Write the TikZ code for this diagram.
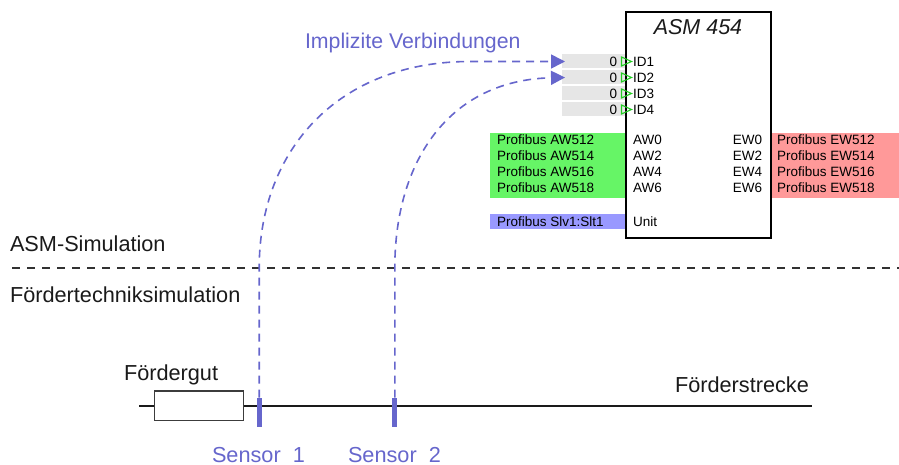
\documentclass[tikz,border=0pt]{standalone}
\usepackage{fontspec}
\setmainfont{Liberation Sans}
\usetikzlibrary{arrows.meta}
\definecolor{vio}{HTML}{6666CC}
\definecolor{gfill}{HTML}{66F566}
\definecolor{rfill}{HTML}{FF9999}
\definecolor{bfill}{HTML}{9999FF}
\definecolor{barg}{HTML}{E6E6E6}
\definecolor{trig}{HTML}{22CC22}
\definecolor{ink}{HTML}{1A1A1A}
\tikzset{
  big/.style={inner sep=0pt, outer sep=0pt, text=ink, font=\fontsize{21.7}{25}\selectfont},
  bigv/.style={big, text=vio},
  small/.style={inner sep=0pt, outer sep=0pt, text=black, font=\fontsize{13.5}{16}\selectfont},
  colbox/.style={draw=none, inner sep=0pt, outer sep=0pt, anchor=north west},
  idbar/.style={colbox, fill=barg, minimum width=64.5pt, minimum height=14pt},
  sensorbar/.style={fill=vio, draw=none, inner sep=0pt, outer sep=0pt, minimum width=5pt, minimum height=29pt, anchor=north},
  conn/.style={draw=vio, line width=1.6pt, dash pattern=on 8pt off 6pt, -{Triangle[length=14pt,width=14pt]}},
  sepline/.style={draw=ink!90, line width=1.3pt, dash pattern=on 8pt off 7pt},
  idtri/.style={draw=trig, line width=1.1pt, line join=miter}
}
\begin{document}
\begin{tikzpicture}[x=1pt,y=-1pt]
\useasboundingbox (0,0) rectangle (899,465);

% ---- ASM block ----
\node[colbox, fill=gfill, minimum width=136pt, minimum height=64.5pt] (gbox) at (489.5,133.5) {};
\node[colbox, fill=rfill, minimum width=127.5pt, minimum height=64.5pt] (rbox) at (771.5,133.5) {};
\node[colbox, fill=bfill, minimum width=136pt, minimum height=15pt] (bbox) at (489.5,214) {};
\node[idbar] (id1bar) at (561.5,54.5) {};
\node[idbar] (id2bar) at (561.5,70.5) {};
\node[idbar] (id3bar) at (561.5,86.5) {};
\node[idbar] (id4bar) at (561.5,102.5) {};
\node[draw=black, line width=1.3pt, fill=none, inner sep=0pt, outer sep=0pt, anchor=north west,
      minimum width=145pt, minimum height=226pt] (asm) at (626,12) {};
\node[big, anchor=base, font=\fontsize{21.5}{25}\selectfont\itshape] (asmtitle) at (698,35) {ASM 454};

\foreach \i/\c in {1/61.5,2/77.5,3/93.5,4/109.5}{
  \node[small, anchor=base east] (zero\i) at (617,\c+5) {0};
  \draw[idtri] (621.5,\c-4.5) -- (631.5,\c) -- (621.5,\c+4.5) -- cycle;
  \node[small, anchor=base west] (idl\i) at (633,\c+5) {ID\i};
}

\foreach \k/\a/\p/\y in {1/0/512/145,2/2/514/161,3/4/516/177,4/6/518/193}{
  \node[small, anchor=base west] (pa\k) at (497,\y) {Profibus AW\p};
  \node[small, anchor=base west] (aw\k) at (633,\y) {AW\a};
  \node[small, anchor=base east] (ew\k) at (762,\y) {EW\a};
  \node[small, anchor=base west] (pe\k) at (777,\y) {Profibus EW\p};
}
\node[small, anchor=base west] (slv) at (497,226) {Profibus Slv1:Slt1};
\node[small, anchor=base west] (unit) at (633,226) {Unit};

% ---- labels ----
\node[bigv, anchor=base west, font=\fontsize{21.3}{25}\selectfont] (impl) at (305,49) {Implizite Verbindungen};
\node[big, anchor=base west] (asmsim) at (10,251) {ASM-Simulation};
\node[big, anchor=base west] (foesim) at (10,302) {Fördertechniksimulation};
\node[big, anchor=base west] (gut) at (124,380) {Fördergut};
\node[big, anchor=base west] (strecke) at (675,392) {Förderstrecke};
\node[bigv, anchor=base west] (sen1) at (212,462) {Sensor\ \ 1};
\node[bigv, anchor=base west] (sen2) at (348,462) {Sensor\ \ 2};

% ---- separator ----
\coordinate (sepL) at (12,268);
\coordinate (sepR) at (899,268);
\draw[sepline] (sepL) -- (sepR);

% ---- conveyor ----
\coordinate (lineL) at (139,406);
\coordinate (lineR) at (812,406);
\draw[ink, line width=1.5pt] (lineL) -- (lineR);
\node[draw=ink!85, line width=1.3pt, fill=white, inner sep=0pt, outer sep=0pt, anchor=north west,
      minimum width=89pt, minimum height=29.5pt] (gutbox) at (154.3,391) {};
\node[sensorbar] (s1) at (259.2,397.7) {};
\node[sensorbar] (s2) at (394.8,397.7) {};

% ---- implicit connections ----
\coordinate (t1) at ([xshift=3.5pt]id1bar.west);
\coordinate (t2) at ([xshift=3.5pt]id2bar.west);
\draw[conn] (s1.north) -- (259.2,268) .. controls (259.2,148) and (340,61.5) .. (470,61.5) -- (t1);
\draw[conn] (s2.north) -- (394.8,268) .. controls (394.8,160) and (450,80) .. (t2);
\end{tikzpicture}
\end{document}
